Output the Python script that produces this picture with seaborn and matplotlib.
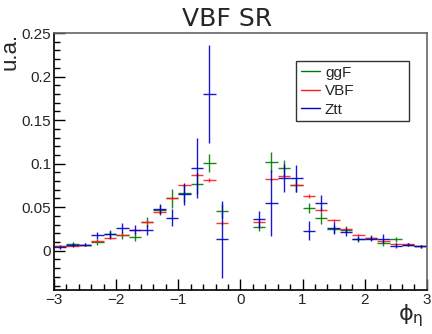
import numpy as np
import pandas as pd
import matplotlib
matplotlib.use('Agg')
import matplotlib.pyplot as plt
import seaborn as sns
from matplotlib.ticker import MultipleLocator
from matplotlib.lines import Line2D

# bin centres (0.2 wide bins from -3 to 3)
bins = [-2.9, -2.7, -2.5, -2.3, -2.1, -1.9, -1.7, -1.5, -1.3, -1.1, -0.9, -0.7, -0.5, -0.3,
        -0.1, 0.1,
        0.3, 0.5, 0.7, 0.9, 1.1, 1.3, 1.5, 1.7, 1.9, 2.1, 2.3, 2.5, 2.7, 2.9]
nan = np.nan

ggf = [0.005, 0.0075, 0.007, 0.010, 0.019, 0.018, 0.016, 0.033, 0.047, 0.060, 0.066, 0.077, 0.101, 0.046,
       nan, nan,
       0.027, 0.102, 0.095, 0.076, 0.049, 0.038, 0.025, 0.024, 0.013, 0.015, 0.009, 0.013, 0.007, 0.005]
ggf_err = [0.002, 0.002, 0.002, 0.003, 0.005, 0.004, 0.005, 0.006, 0.006, 0.011, 0.010, 0.012, 0.010, 0.008,
           nan, nan,
           0.004, 0.011, 0.009, 0.008, 0.006, 0.007, 0.005, 0.004, 0.003, 0.003, 0.003, 0.003, 0.002, 0.002]

vbf = [0.0055, 0.006, 0.007, 0.011, 0.015, 0.018, 0.024, 0.033, 0.045, 0.060, 0.075, 0.087, 0.081, 0.032,
       nan, nan,
       0.033, 0.082, 0.086, 0.076, 0.063, 0.047, 0.035, 0.025, 0.018, 0.015, 0.011, 0.008, 0.0074, 0.0055]
vbf_err = [0.001, 0.001, 0.001, 0.001, 0.0015, 0.0015, 0.0015, 0.002, 0.002, 0.002, 0.002, 0.002, 0.002, 0.002,
           nan, nan,
           0.002, 0.002, 0.002, 0.002, 0.002, 0.002, 0.0015, 0.0015, 0.0015, 0.001, 0.001, 0.001, 0.001, 0.001]

ztt = [0.004, 0.0065, 0.007, 0.018, 0.019, 0.026, 0.024, 0.024, 0.048, 0.038, 0.065, 0.095, 0.180, 0.013,
       nan, nan,
       0.036, 0.055, 0.084, 0.083, 0.023, 0.055, 0.026, 0.0215, 0.014, 0.014, 0.014, 0.006, 0.007, 0.005]
ztt_err = [0.002, 0.002, 0.002, 0.004, 0.004, 0.006, 0.005, 0.006, 0.006, 0.010, 0.013, 0.034, 0.056, 0.044,
           nan, nan,
           0.010, 0.038, 0.016, 0.016, 0.011, 0.009, 0.007, 0.005, 0.003, 0.003, 0.005, 0.003, 0.002, 0.002]

samples = {'ggF': (ggf, ggf_err, '#007a00'),
           'VBF': (vbf, vbf_err, '#ff1a1a'),
           'Ztt': (ztt, ztt_err, '#0000c8')}

sns.set_theme(style='ticks')
plt.rcParams['font.family'] = ['Liberation Sans', 'DejaVu Sans']
plt.rcParams['mathtext.fontset'] = 'dejavusans'

fig = plt.figure(figsize=(4.32, 3.34), dpi=100)
ax = fig.add_axes([0.125, 0.132, 0.863, 0.769])

handles = []
for name, (vals, errs, col) in samples.items():
    df = pd.DataFrame({'x': bins, 'y': vals, 'e': errs}).dropna()
    ax.errorbar(df['x'], df['y'], xerr=0.1, yerr=df['e'], fmt='none',
                ecolor=col, elinewidth=1.0, capsize=0, alpha=0.9)
    handles.append(Line2D([], [], color=col, lw=1.0, label=name))

ax.set_xlim(-3, 3)
ax.set_ylim(-0.045, 0.25)
ax.xaxis.set_minor_locator(MultipleLocator(0.2))
ax.yaxis.set_minor_locator(MultipleLocator(0.01))
ax.set_yticks([0, 0.05, 0.1, 0.15, 0.2, 0.25])
ax.set_yticklabels(['0', '0.05', '0.1', '0.15', '0.2', '0.25'])
ax.set_xticks([-3, -2, -1, 0, 1, 2, 3])
ax.set_xticklabels(['\u22123', '\u22122', '\u22121', '0', '1', '2', '3'])
ax.tick_params(which='both', direction='in', top=False, right=False,
               labelsize=11, color='black', width=1)
ax.tick_params(which='major', length=8, pad=2)
ax.tick_params(which='minor', length=4)
for side in ['left', 'bottom']:
    ax.spines[side].set_color('black')
    ax.spines[side].set_linewidth(1.2)
for side in ['top', 'right']:
    ax.spines[side].set_color('#666666')
    ax.spines[side].set_linewidth(1.2)

ax.set_ylabel('u.a.', fontsize=16, loc='top', labelpad=1)
ax.set_xlabel(r'$\mathrm{\phi}_{\mathrm{\eta}}$', fontsize=16, loc='right')
ax.xaxis.set_label_coords(0.99, -0.048)

fig.text(0.525, 0.943, 'VBF SR', ha='center', va='center', fontsize=18, family='DejaVu Sans')

leg = ax.legend(handles=handles, loc='upper left', bbox_to_anchor=(0.649, 0.654, 0.303, 0.237),
                mode='expand', frameon=True, fancybox=False, fontsize=11,
                handlelength=1.3, borderaxespad=0, borderpad=0.3,
                labelspacing=0.3, handletextpad=0.3)
leg.get_frame().set_edgecolor('black')
leg.get_frame().set_linewidth(1)
handles[1].set_alpha(0.6)

fig.savefig('out.png', dpi=100)
